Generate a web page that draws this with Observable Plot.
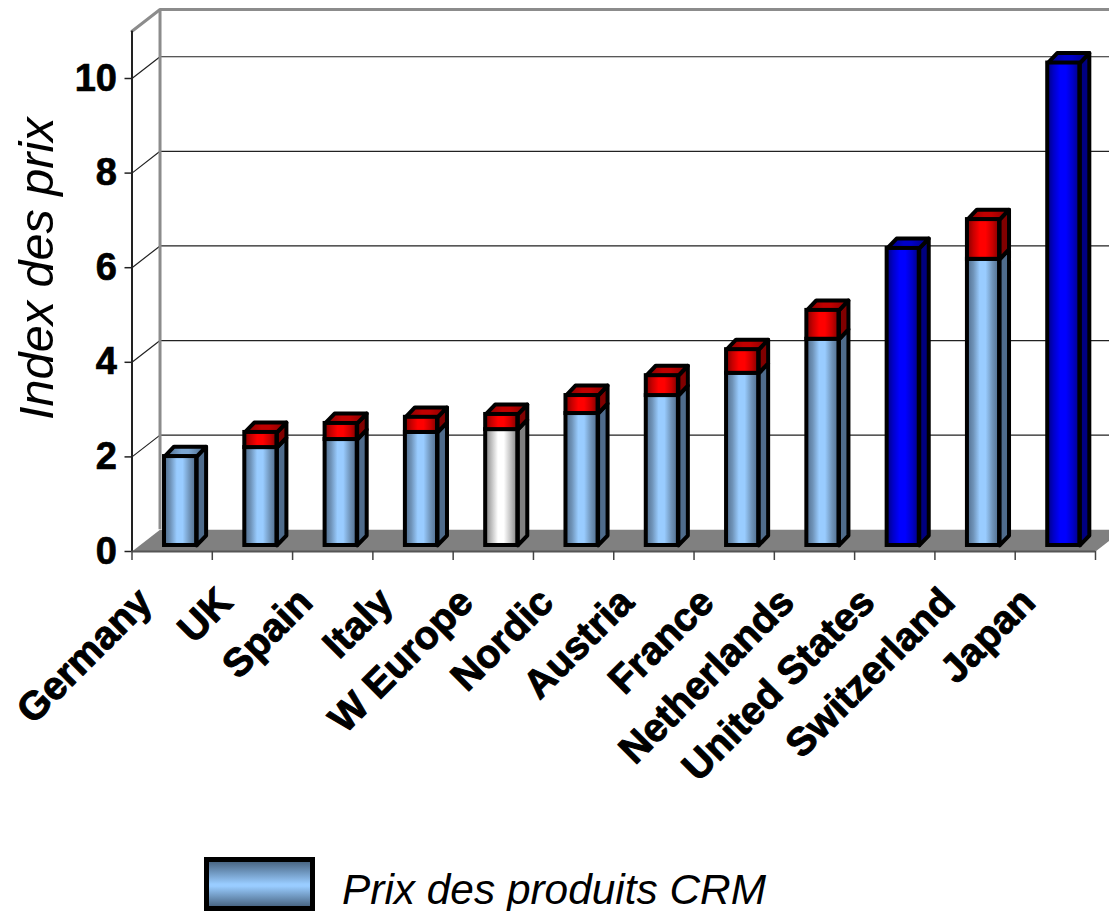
<!DOCTYPE html>
<html>
<head>
<meta charset="utf-8">
<script src="https://cdn.jsdelivr.net/npm/d3@7"></script>
<script src="https://cdn.jsdelivr.net/npm/@observablehq/plot@0.6"></script>
<style>
  html, body { margin: 0; padding: 0; background: #fff; overflow: hidden; }
  #chart svg { display: block; }
  [aria-label="y-axis tick label"] { stroke: #000; stroke-width: 0.7px; }
  .legend { position: relative; height: 54px; font-family: "Liberation Sans", Arial, sans-serif; }
  .legend .swatch {
    position: absolute; left: 204px; top: 0; width: 101px; height: 44px;
    border: 5px solid #000;
    background: linear-gradient(to bottom, #4a6785 0%, #99ccff 50%, #99ccff 55%, #4a6785 100%);
  }
  .legend .name {
    position: absolute; left: 342px; top: 11px; font-size: 42.4px; line-height: 44px;
    font-style: italic; color: #000; white-space: nowrap;
  }
</style>
</head>
<body>
<div id="chart"></div>
<div class="legend"><div class="swatch"></div><div class="name">Prix des produits CRM</div></div>
<script>
const categories = ["Germany", "UK", "Spain", "Italy", "W Europe", "Nordic", "Austria", "France", "Netherlands", "United States", "Switzerland", "Japan"];
const crmPrices = [1.88, 2.07, 2.24, 2.39, 2.45, 2.79, 3.17, 3.64, 4.36, 6.28, 6.05, 10.2];
const premiums = [0, 0.32, 0.34, 0.32, 0.32, 0.38, 0.42, 0.5, 0.61, 0, 0.84, 0];
const groups = ["crm", "crm", "crm", "crm", "aggregate", "crm", "crm", "crm", "crm", "outlier", "crm", "outlier"];
const yTicks = [0, 2, 4, 6, 8, 10];

// Perspective depth of the chart box and of the bars, in data units.
const wallDepth = {x: 0.349, y: 0.46};
const barDepth = {x: 0.118, y: 0.21};
const barInset = {x: 0.1, y: 0.127};
const barWidth = 0.4;

const paints = {
  crm: {front: "url(#crmFront)", side: "#4f6c8c", top: "url(#crmTop)"},
  aggregate: {front: "url(#aggFront)", side: "#808080", top: "url(#aggTop)"},
  outlier: {front: "url(#usdFront)", side: "#000080", top: "url(#usdTop)"},
  premium: {front: "url(#redFront)", side: "#800000", top: "url(#redTop)"}
};

// One stacked segment per bar: the base price, then the red premium when there is one.
const segments = categories.flatMap((name, i) => {
  const x1 = i + 0.5 - barWidth / 2 + barInset.x + 0.005;
  const x2 = x1 + barWidth;
  const base = {i, x1, x2, y1: barInset.y, y2: barInset.y + crmPrices[i], kind: groups[i]};
  const capped = premiums[i] > 0;
  const list = [{...base, cap: !capped}];
  if (capped) list.push({i, x1, x2, y1: base.y2, y2: base.y2 + premiums[i], kind: "premium", cap: true});
  return list;
});

// Side and top faces are parallelograms offset by the bar depth.
function sideFace(s, n) {
  const d = barDepth;
  return [[s.x2, s.y1], [s.x2 + d.x, s.y1 + d.y], [s.x2 + d.x, s.y2 + d.y], [s.x2, s.y2]]
    .map(([x, y], k) => ({x, y, id: n, order: k}));
}
function topFace(s, n) {
  const d = barDepth;
  return [[s.x1, s.y2], [s.x1 + d.x, s.y2 + d.y], [s.x2 + d.x, s.y2 + d.y], [s.x2, s.y2]]
    .map(([x, y], k) => ({x, y, id: n, order: k}));
}

const faceMarks = [];
for (const [kind, paint] of Object.entries(paints)) {
  const own = segments.filter((s) => s.kind === kind);
  const sides = own.flatMap(sideFace);
  const tops = own.filter((s) => s.cap).flatMap(topFace);
  const edge = {x: "x", y: "y", z: "id", curve: "linear-closed", stroke: "#000", strokeWidth: 4};
  faceMarks.push(
    Plot.line(sides, {...edge, fill: paint.side}),
    Plot.line(tops, {...edge, fill: paint.top}),
    Plot.rect(own, {x1: "x1", x2: "x2", y1: "y1", y2: "y2", fill: paint.front, stroke: "#000", strokeWidth: 4})
  );
}

// Horizontal shading of the bar fronts and top faces.
function shade(id, dark, mid, light) {
  const stops = [[0, dark], [0.2, mid], [0.4, light], [0.58, light], [0.8, mid], [1, dark]];
  return `<linearGradient id="${id}" x1="0" x2="1" y1="0" y2="0">` +
    stops.map(([o, c]) => `<stop offset="${o}" stop-color="${c}"/>`).join("") + "</linearGradient>";
}
const gradients = () => {
  const defs = document.createElementNS("http://www.w3.org/2000/svg", "defs");
  defs.innerHTML =
    shade("crmFront", "#4f6c8c", "#6f93b8", "#99ccff") +
    shade("crmTop", "#4f6c8c", "#6083a8", "#7ba6d2") +
    shade("aggFront", "#808080", "#c0c0c0", "#ffffff") +
    shade("aggTop", "#707070", "#a0a0a0", "#d0d0d0") +
    shade("usdFront", "#000080", "#0000c8", "#0000ff") +
    shade("usdTop", "#000080", "#0000a0", "#0000c8") +
    shade("redFront", "#800000", "#c80000", "#ff0000") +
    shade("redTop", "#800000", "#a00000", "#c00000");
  return defs;
};

// Left wall, back wall and floor of the chart box.
const backLeft = 0;
const wallTop = 11;
const lastX = categories.length;
const floor = [[0, 0], [wallDepth.x, wallDepth.y], [lastX + wallDepth.x, wallDepth.y], [lastX, 0]].map(([x, y]) => ({x, y}));
const gridLines = yTicks.filter((v) => v > 0).flatMap((v) => [
  {x: backLeft, y: v, v},
  {x: wallDepth.x, y: v + wallDepth.y, v},
  {x: lastX + wallDepth.x, y: v + wallDepth.y, v}
]);
const wallOutline = [
  {x: backLeft, y: wallTop},
  {x: wallDepth.x, y: wallTop + wallDepth.y},
  {x: lastX + wallDepth.x, y: wallTop + wallDepth.y}
];

const sans = "Liberation Sans, Arial, sans-serif";

const plot = Plot.plot({
  width: 1109,
  height: 857,
  marginLeft: 131.5,
  marginRight: 14,
  marginTop: 30.7,
  marginBottom: 306,
  style: {background: "#fff", fontFamily: sans},
  x: {type: "linear", domain: [0, lastX]},
  y: {type: "linear", domain: [0, wallTop]},
  marks: [
    gradients,
    Plot.line(floor, {x: "x", y: "y", curve: "linear-closed", fill: "#808080"}),
    Plot.line(gridLines, {x: "x", y: "y", z: "v", stroke: "#222", strokeWidth: 1.2}),
    Plot.line(wallOutline, {x: "x", y: "y", stroke: "#8c8c8c", strokeWidth: 3}),
    Plot.ruleX([wallDepth.x], {y1: wallDepth.y, y2: wallTop + wallDepth.y, stroke: "#8c8c8c", strokeWidth: 3}),
    Plot.ruleX([0], {y1: 0, y2: wallTop, stroke: "#222", strokeWidth: 2}),
    Plot.ruleY([0], {x1: 0, x2: lastX, stroke: "#555", strokeWidth: 2}),
    Plot.axisY({
      ticks: yTicks, tickSize: 7, tickPadding: 8, label: null,
      fontSize: 38, fontWeight: "bold", fontFamily: sans, stroke: "#222", strokeWidth: 1.5, fill: "#000"
    }),
    Plot.axisX({ticks: d3.range(0, lastX + 1), tickSize: 9, tickFormat: () => "", label: null, stroke: "#444", strokeWidth: 1.5}),
    ...faceMarks,
    Plot.text(categories, {
      x: (d, i) => i + 0.5, y: 0, text: (d) => d,
      rotate: -45, textAnchor: "end", lineAnchor: "middle",
      dx: -27, dy: 44, fontSize: 39.5, fontWeight: "bold", fill: "#000", stroke: "#000", strokeWidth: 1
    }),
    Plot.text(["Index des prix"], {
      x: 0, y: 5.98, dx: -94.5, rotate: -90, textAnchor: "middle", lineAnchor: "middle",
      fontSize: 48.6, fontStyle: "italic", fill: "#000"
    })
  ]
});
document.getElementById("chart").append(plot);
</script>
</body>
</html>
